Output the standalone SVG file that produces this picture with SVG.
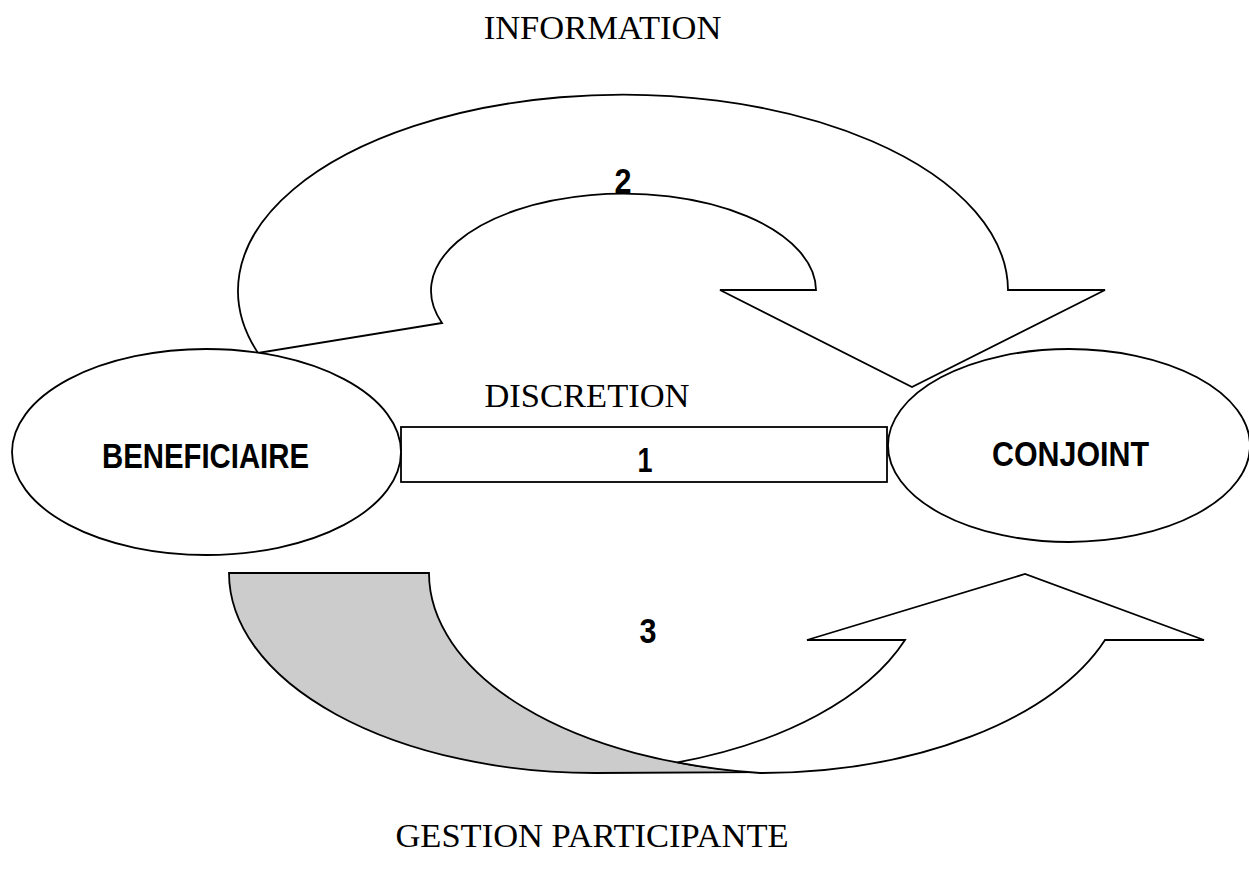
<svg xmlns="http://www.w3.org/2000/svg" width="1249" height="869" viewBox="0 0 1249 869">
  <style>
    .shape { fill: #ffffff; stroke: #000000; stroke-width: 1.8; stroke-linejoin: miter; }
    .back { fill: #cccccc; stroke: #000000; stroke-width: 1.8; }
    .serif { font-family: "Liberation Serif", "Times New Roman", serif; font-size: 34.5px; fill: #000000; text-anchor: middle; }
    .bold { font-family: "Liberation Sans Narrow", "Arial Narrow", "Liberation Sans", Arial, sans-serif; font-weight: bold; font-size: 35px; fill: #000000; text-anchor: middle; }
  </style>
  <rect x="0" y="0" width="1249" height="869" fill="#ffffff"/>

  <g id="connectors">
    <g id="arrow-information">
      <path class="shape" d="M258,353 A385,196 0 1,1 1008,290 L1105,290 L912,387 L720,290 L816,290 A192.5,97 0 1,0 442,323 Z"/>
      <text class="bold" x="623" y="193" textLength="17" lengthAdjust="spacingAndGlyphs">2</text>
    </g>
    <g id="arrow-gestion">
      <path class="back" d="M229,573 L429,573 A366,200 0 0,0 760,772.2 L595,773 A366,200 0 0,1 229,573 Z"/>
      <path class="shape" d="M677.5,762.4 A366,200 0 0,0 905,640 L807,640 L1025,574 L1204,640 L1105,640 A366,200 0 0,1 760,773 A366,200 0 0,1 677.5,762.4 Z"/>
      <text class="bold" x="648" y="643" textLength="17" lengthAdjust="spacingAndGlyphs">3</text>
    </g>
    <g id="bar-discretion">
      <rect class="shape" x="401" y="427" width="486" height="55"/>
      <text class="bold" x="645" y="472" textLength="15" lengthAdjust="spacingAndGlyphs">1</text>
    </g>
  </g>

  <g id="node-beneficiaire">
    <ellipse class="shape" cx="206.5" cy="452" rx="194.5" ry="103"/>
    <text class="bold" x="205.5" y="468" textLength="207" lengthAdjust="spacingAndGlyphs">BENEFICIAIRE</text>
  </g>

  <g id="node-conjoint">
    <ellipse class="shape" cx="1069" cy="445.5" rx="181" ry="96.5"/>
    <text class="bold" x="1070.5" y="466" textLength="157" lengthAdjust="spacingAndGlyphs">CONJOINT</text>
  </g>

  <g id="labels">
    <text class="serif" x="602.5" y="39">INFORMATION</text>
    <text class="serif" x="587" y="407">DISCRETION</text>
    <text class="serif" x="592" y="847">GESTION PARTICIPANTE</text>
  </g>
</svg>
